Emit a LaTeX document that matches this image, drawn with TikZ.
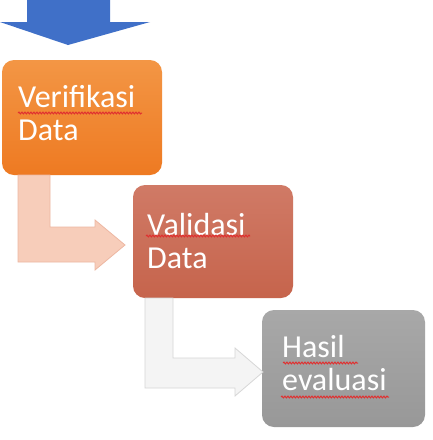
\documentclass[tikz,border=0pt]{standalone}
\usepackage{fontspec}
\setmainfont{Carlito}
\usetikzlibrary{decorations.pathmorphing}
\definecolor{boxorange}{HTML}{EE7A22}
\definecolor{boxorangeTop}{HTML}{F39645}
\definecolor{boxred}{HTML}{C6644C}
\definecolor{boxredTop}{HTML}{D07A66}
\definecolor{boxgrey}{HTML}{989898}
\definecolor{boxgreyTop}{HTML}{A8A8A8}
\definecolor{arrowsalmon}{HTML}{F7CDBA}
\definecolor{arrowsalmonEdge}{HTML}{EDB7A2}
\definecolor{arrowpale}{HTML}{F4F4F4}
\definecolor{arrowpaleEdge}{HTML}{D6D6D6}
\definecolor{arrowblue}{HTML}{4070C8}
\definecolor{squig}{HTML}{E03030}
\tikzset{
  stepbox/.style={rectangle, rounded corners=12pt, draw=none, inner sep=0pt},
  steptext/.style={anchor=base west, align=left, text=white, inner sep=0pt,
    font=\fontsize{32}{33}\selectfont},
  squiggle/.style={draw=squig, line width=1pt, decorate,
    decoration={snake, amplitude=0.9pt, segment length=3pt}},
}
\begin{document}
\begin{tikzpicture}[x=1pt,y=-1pt]
\useasboundingbox (0,0) rectangle (432,440);
\fill[white] (0,0) rectangle (432,440);

% top blue arrow
\fill[arrowblue] (27,0) -- (110,0) -- (110,22) -- (150,22) -- (68,45) -- (0,22) -- (27,22) -- cycle;

% boxes
\node[stepbox, minimum width=160pt, minimum height=115pt,
  top color=boxorangeTop, bottom color=boxorange] (b1) at (82,117.5) {};
\node[stepbox, minimum width=160pt, minimum height=113pt,
  top color=boxredTop, bottom color=boxred] (b2) at (213,241.5) {};
\node[stepbox, minimum width=163pt, minimum height=117pt,
  top color=boxgreyTop, bottom color=boxgrey] (b3) at (343.5,368.5) {};

% bent arrows
\filldraw[fill=arrowsalmon, draw=arrowsalmonEdge, line width=0.8pt]
  (18,175) -- (50,175) -- (50,227) -- (95,227) -- (95,220) -- (125,245)
  -- (95,270) -- (95,262) -- (18,262) -- cycle;
\filldraw[fill=arrowpale, draw=arrowpaleEdge, line width=0.8pt]
  (145,298) -- (173,298) -- (173,358) -- (235,358) -- (235,348) -- (263,372)
  -- (235,396) -- (235,388) -- (145,388) -- cycle;

% texts (anchor = baseline of last line)
\node[steptext] (t1) at (18,140) {Verifikasi\\Data};
\node[steptext] (t2) at (147,268) {Validasi\\Data};
\node[steptext] (t3) at (282,390) {Hasil\\evaluasi};

% spell-check squiggles
\draw[squiggle] (18,113) -- (142,113);
\draw[squiggle] (146,236) -- (250,236);
\draw[squiggle] (283,363) -- (358,363);
\draw[squiggle] (281,397) -- (389,397);
\end{tikzpicture}
\end{document}
